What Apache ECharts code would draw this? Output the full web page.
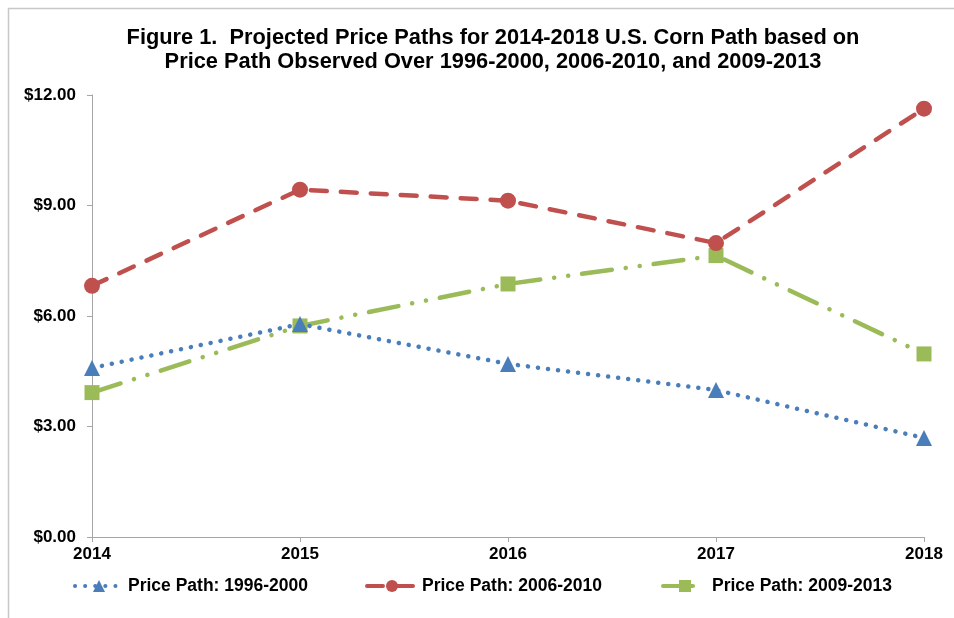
<!DOCTYPE html>
<html>
<head>
<meta charset="utf-8">
<script src="https://cdn.jsdelivr.net/npm/echarts@6/dist/echarts.min.js"></script>
<style>
html, body { margin: 0; padding: 0; background: #fff; }
#chart { width: 954px; height: 618px; }
</style>
</head>
<body>
<div id="chart"></div>
<script>
var years = ['2014', '2015', '2016', '2017', '2018'];
var path1996 = [4.59, 5.78, 4.70, 3.99, 2.69];
var path2006 = [6.82, 9.43, 9.13, 7.98, 11.63];
var path2009 = [3.92, 5.73, 6.87, 7.64, 4.97];
var yTicks = [0, 3, 6, 9, 12];

var chart = echarts.init(document.getElementById('chart'));
var font = '"Liberation Sans", Arial, sans-serif';
var legendText = { fontSize: 17.5, fontWeight: 'bold', color: '#000', fontFamily: font };
var legendLine = { width: 4 };

var option = {
    animation: false,
    textStyle: { fontFamily: font },
    title: {
        text: 'Figure 1.  Projected Price Paths for 2014-2018 U.S. Corn Path based on\nPrice Path Observed Over 1996-2000, 2006-2010, and 2009-2013',
        left: 488,
        top: 21,
        textAlign: 'center',
        textStyle: { fontSize: 21.8, fontWeight: 'bold', color: '#000', lineHeight: 24, fontFamily: font }
    },
    graphic: [{
        type: 'rect',
        shape: { x: 8.5, y: 8.5, width: 1000, height: 1000 },
        style: { fill: 'none', stroke: '#c8c8c8', lineWidth: 1.5 },
        silent: true
    }],
    legend: [
        { left: 68, top: 572, itemWidth: 48, itemHeight: 15, itemGap: 0, lineStyle: legendLine, textStyle: legendText, data: ['Price Path: 1996-2000'] },
        { left: 360, top: 572, itemWidth: 50, itemHeight: 15, itemGap: 0, lineStyle: legendLine, textStyle: legendText, data: ['Price Path: 2006-2010'] },
        { left: 656, top: 572, itemWidth: 44, itemHeight: 15, itemGap: 0, lineStyle: legendLine, textStyle: legendText, data: ['Price Path: 2009-2013'] }
    ],
    grid: { left: 92, right: 30, top: 95, bottom: 81 },
    xAxis: {
        type: 'category',
        boundaryGap: false,
        data: years,
        axisLine: { lineStyle: { color: '#a6a6a6' } },
        axisTick: { show: true, alignWithLabel: true, lineStyle: { color: '#a6a6a6' }, length: 5 },
        axisLabel: { fontSize: 17, fontWeight: 'bold', color: '#000', margin: 9 }
    },
    yAxis: {
        type: 'value',
        min: yTicks[0],
        max: yTicks[yTicks.length - 1],
        interval: 3,
        axisLine: { show: true, lineStyle: { color: '#a6a6a6' } },
        axisTick: { show: true, inside: false, length: 5, lineStyle: { color: '#a6a6a6' } },
        splitLine: { show: false },
        axisLabel: {
            fontSize: 17, fontWeight: 'bold', color: '#000', margin: 16,
            formatter: function (v) { return '$' + v.toFixed(2); }
        }
    },
    series: [
        {
            name: 'Price Path: 1996-2000',
            type: 'line',
            data: path1996,
            symbol: 'triangle',
            symbolSize: 16,
            itemStyle: { color: '#4a7ebb' },
            lineStyle: { color: '#4a7ebb', width: 4.5, type: [0.1, 10], cap: 'round' },
            z: 2
        },
        {
            name: 'Price Path: 2006-2010',
            type: 'line',
            data: path2006,
            symbol: 'circle',
            symbolSize: 16,
            itemStyle: { color: '#c0504d' },
            lineStyle: { color: '#c0504d', width: 4.5, type: [16, 14], cap: 'round' },
            z: 3
        },
        {
            name: 'Price Path: 2009-2013',
            type: 'line',
            data: path2009,
            symbol: 'rect',
            symbolSize: 15,
            itemStyle: { color: '#9bbb59' },
            lineStyle: { color: '#9bbb59', width: 4.5, type: [30, 14, 0.1, 14, 0.1, 14], cap: 'round' },
            z: 1
        }
    ]
};

chart.setOption(option);
</script>
</body>
</html>
